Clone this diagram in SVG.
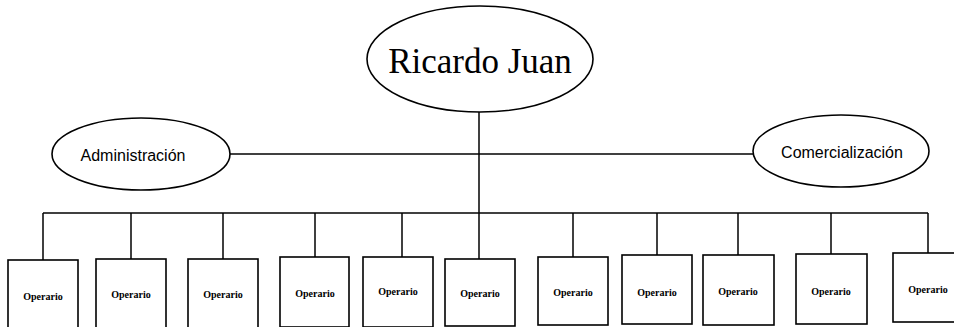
<svg xmlns="http://www.w3.org/2000/svg" width="954" height="327" viewBox="0 0 954 327">
<style>
.shape{fill:#fff;stroke:#000;stroke-width:1.6}
.conn{fill:none;stroke:#000;stroke-width:1.5}
.big{font-family:"Liberation Serif",serif;font-size:35px;fill:#000}
.mid{font-family:"Liberation Sans",sans-serif;font-size:16px;fill:#000}
.op{font-family:"Liberation Serif",serif;font-size:10px;font-weight:bold;fill:#000}
</style>
<rect width="954" height="327" fill="#fff"/>
<g id="connectors">
<line class="conn" x1="479" y1="112" x2="479" y2="259"/>
<line class="conn" x1="230" y1="154" x2="753" y2="154"/>
<line class="conn" x1="43" y1="213" x2="928" y2="213"/>
<line class="conn" x1="43" y1="213" x2="43" y2="260"/>
<line class="conn" x1="131" y1="213" x2="131" y2="259"/>
<line class="conn" x1="223" y1="213" x2="223" y2="259"/>
<line class="conn" x1="315" y1="213" x2="315" y2="257"/>
<line class="conn" x1="402" y1="213" x2="402" y2="257"/>
<line class="conn" x1="573" y1="213" x2="573" y2="257"/>
<line class="conn" x1="657" y1="213" x2="657" y2="255"/>
<line class="conn" x1="738" y1="213" x2="738" y2="255"/>
<line class="conn" x1="831" y1="213" x2="831" y2="254"/>
<line class="conn" x1="928" y1="213" x2="928" y2="253"/>
</g>
<g id="ricardo">
<ellipse class="shape" cx="480" cy="59" rx="113" ry="53"/>
<text class="big" x="480" y="73" text-anchor="middle">Ricardo Juan</text>
</g>
<g id="administracion">
<ellipse class="shape" cx="141" cy="154" rx="89" ry="36"/>
<text class="mid" x="133" y="161" text-anchor="middle">Administración</text>
</g>
<g id="comercializacion">
<ellipse class="shape" cx="841" cy="151" rx="88" ry="36"/>
<text class="mid" x="842" y="158" text-anchor="middle">Comercialización</text>
</g>
<g id="op1"><rect class="shape" x="8" y="260" width="70" height="70"/><text class="op" x="43" y="300" text-anchor="middle">Operario</text></g>
<g id="op2"><rect class="shape" x="96" y="259" width="70" height="70"/><text class="op" x="131" y="298" text-anchor="middle">Operario</text></g>
<g id="op3"><rect class="shape" x="188" y="259" width="70" height="70"/><text class="op" x="223" y="298" text-anchor="middle">Operario</text></g>
<g id="op4"><rect class="shape" x="280" y="257" width="69" height="70"/><text class="op" x="315" y="297" text-anchor="middle">Operario</text></g>
<g id="op5"><rect class="shape" x="363" y="257" width="70" height="70"/><text class="op" x="398" y="295" text-anchor="middle">Operario</text></g>
<g id="op6"><rect class="shape" x="445" y="259" width="70" height="67"/><text class="op" x="480" y="297" text-anchor="middle">Operario</text></g>
<g id="op7"><rect class="shape" x="538" y="257" width="70" height="68"/><text class="op" x="573" y="296" text-anchor="middle">Operario</text></g>
<g id="op8"><rect class="shape" x="622" y="255" width="70" height="69"/><text class="op" x="657" y="296" text-anchor="middle">Operario</text></g>
<g id="op9"><rect class="shape" x="703" y="255" width="71" height="70"/><text class="op" x="738" y="295" text-anchor="middle">Operario</text></g>
<g id="op10"><rect class="shape" x="796" y="254" width="71" height="70"/><text class="op" x="831" y="295" text-anchor="middle">Operario</text></g>
<g id="op11"><rect class="shape" x="893" y="253" width="70" height="69"/><text class="op" x="928" y="293" text-anchor="middle">Operario</text></g>
</svg>
